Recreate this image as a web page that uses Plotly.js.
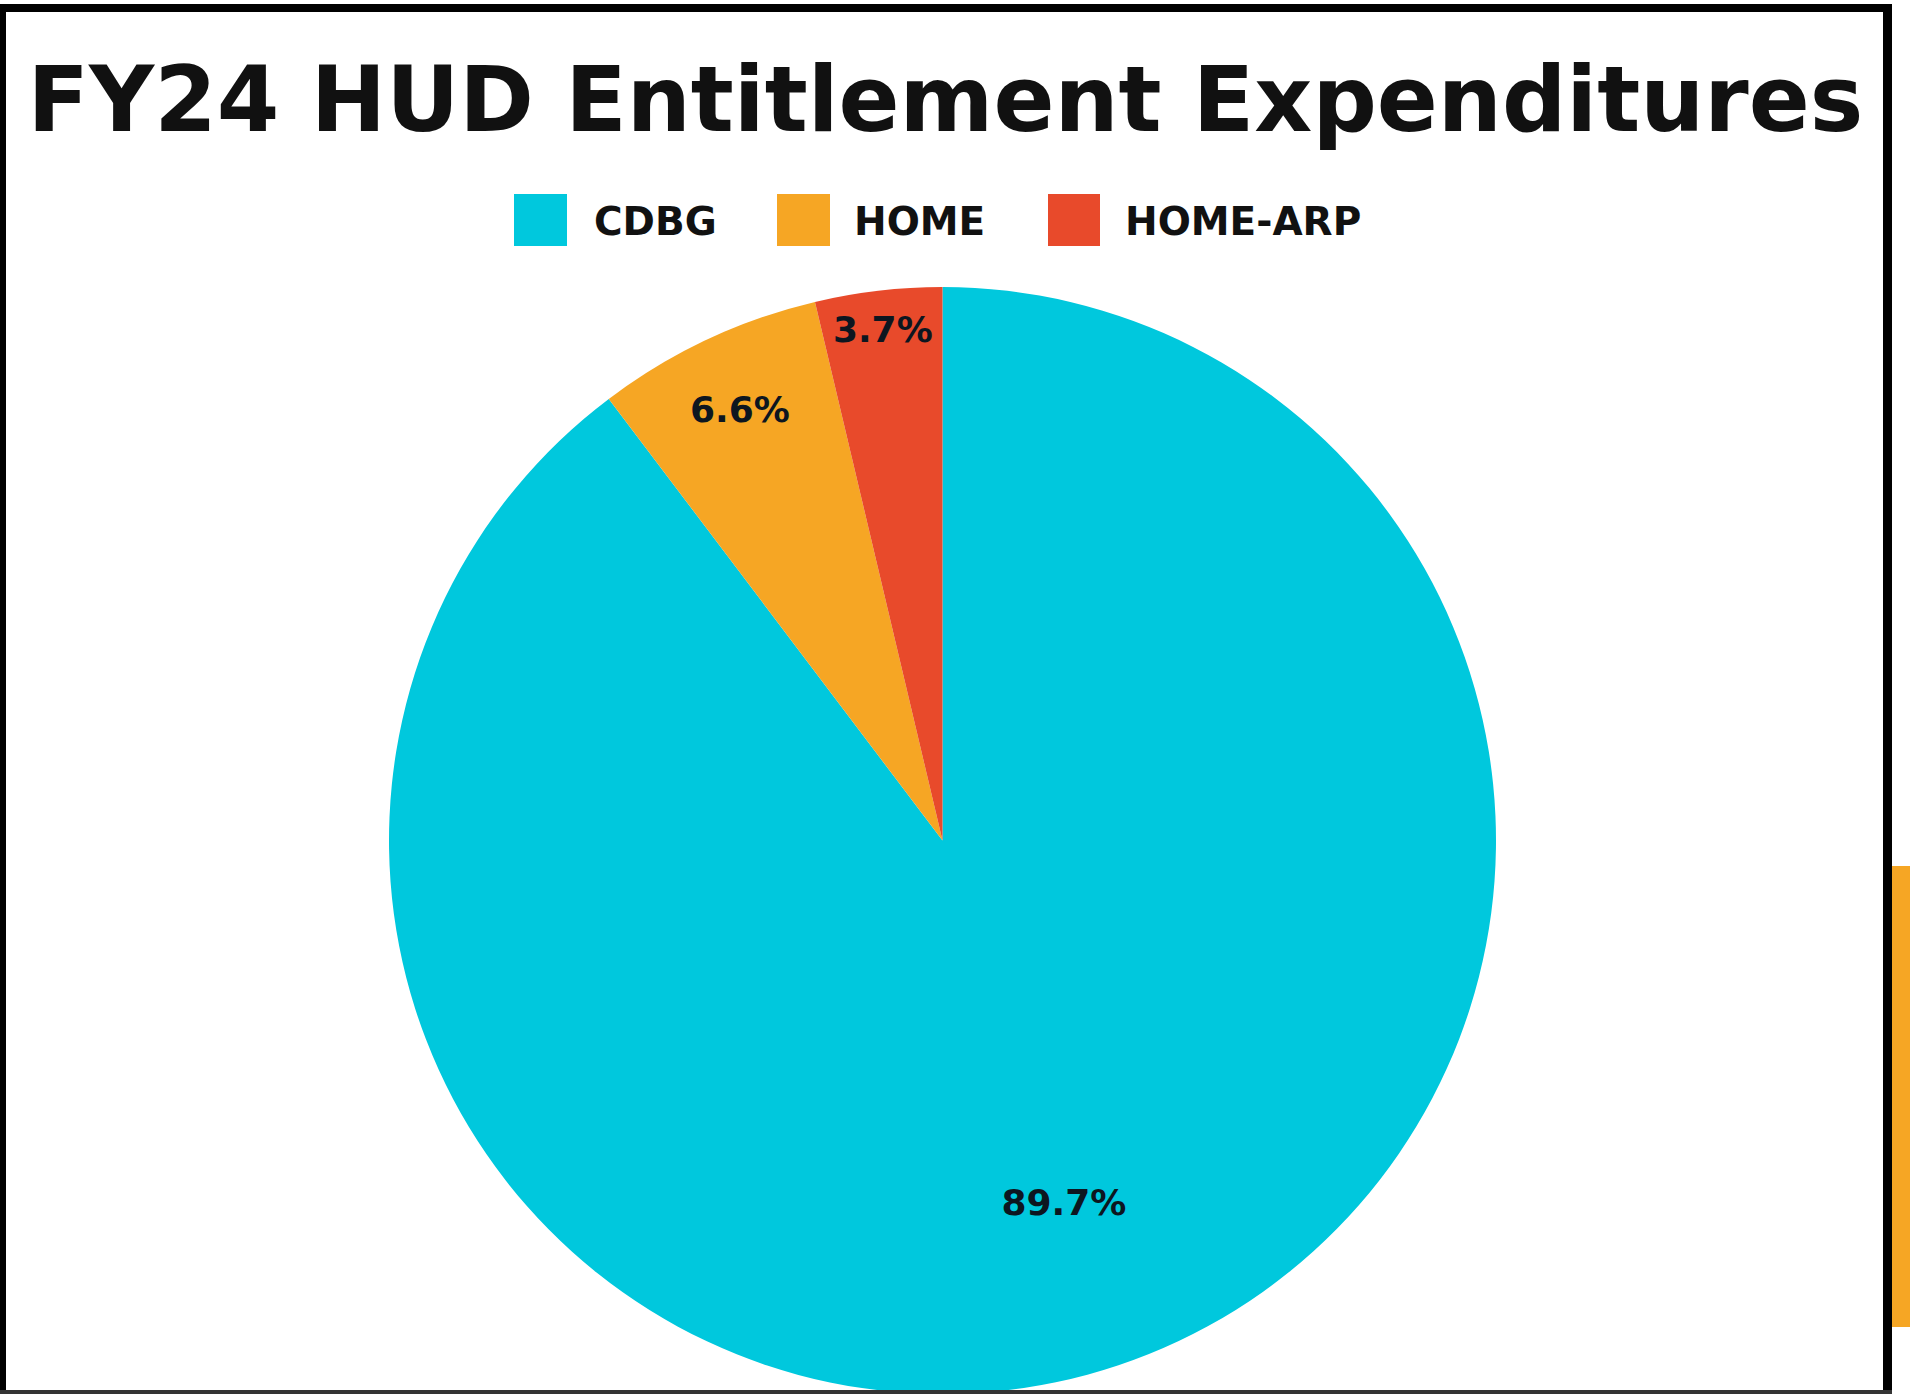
<!DOCTYPE html>
<html>
<head>
<meta charset="utf-8">
<script src="https://cdn.plot.ly/plotly-3.0.1.min.js"></script>
<style>
  html, body { margin: 0; padding: 0; background: #ffffff; overflow: hidden; }
  #chart { width: 1910px; height: 1394px; }
</style>
</head>
<body>
<div id="chart"></div>
<script>
// ---- data ----
const categories = ["CDBG", "HOME", "HOME-ARP"];
const shares = [89.7, 6.6, 3.7];
const sliceColors = ["#00C8DD", "#F6A624", "#E84A2B"];
const chartTitle = "FY24 HUD Entitlement Expenditures";

// ---- layout helpers (pixel -> paper) ----
const W = 1910, H = 1394;
const px = x => x / W;
const py = y => 1 - y / H;

const FONT = "'DejaVu Sans', 'Open Sans', sans-serif";
const INK = "#0d1620";
const pieDomain = { x: [px(389), px(1496)], y: [0, py(287)] };

// visible slices
const pie = {
  type: "pie",
  labels: categories,
  values: shares,
  sort: false,
  direction: "clockwise",
  rotation: 0,
  marker: { colors: sliceColors, line: { width: 0 } },
  textinfo: "none",
  hoverinfo: "label+percent",
  showlegend: false,
  domain: pieDomain
};

// transparent overlays carrying the percentage labels; each overlay's hole
// only tunes how far from the centre its own label sits
const labelHoles = [0.38, 0.72, 0.86];
const labelTraces = categories.map((c, i) => ({
  type: "pie",
  labels: categories,
  values: shares,
  sort: false,
  direction: "clockwise",
  rotation: 0,
  hole: labelHoles[i],
  marker: { colors: categories.map(() => "rgba(0,0,0,0)"), line: { width: 0 } },
  texttemplate: categories.map((_, j) => (j === i ? "%{value:.1f}%" : "")),
  textposition: "inside",
  insidetextorientation: "horizontal",
  textfont: { family: FONT, size: 36, color: INK, weight: 700 },
  hoverinfo: "skip",
  showlegend: false,
  domain: pieDomain
}));

// custom legend (big square swatches)
const legendSquares = [[514, 567], [777, 830], [1048, 1100]];
const legendTextLeft = [592, 852, 1123];
const shapes = [];
const annotations = [];
categories.forEach((c, i) => {
  shapes.push({
    type: "rect", xref: "paper", yref: "paper",
    x0: px(legendSquares[i][0]), x1: px(legendSquares[i][1]),
    y0: py(246), y1: py(194),
    fillcolor: sliceColors[i], line: { width: 0 }
  });
  annotations.push({
    xref: "paper", yref: "paper",
    x: px(legendTextLeft[i]), y: py(222),
    xanchor: "left", yanchor: "middle",
    text: c, showarrow: false,
    font: { family: FONT, size: 39, color: "#111111", weight: 700 }
  });
});

// frame and side accent
shapes.push(
  { type: "rect", xref: "paper", yref: "paper", layer: "above",
    x0: px(0), x1: px(6), y0: py(1394), y1: py(4), fillcolor: "#000", line: { width: 0 } },
  { type: "rect", xref: "paper", yref: "paper", layer: "above",
    x0: px(0), x1: px(1892), y0: py(12), y1: py(4), fillcolor: "#000", line: { width: 0 } },
  { type: "rect", xref: "paper", yref: "paper", layer: "above",
    x0: px(1883), x1: px(1892), y0: py(1394), y1: py(4), fillcolor: "#000", line: { width: 0 } },
  { type: "rect", xref: "paper", yref: "paper", layer: "above",
    x0: px(0), x1: px(1892), y0: py(1394), y1: py(1390), fillcolor: "#333", line: { width: 0 } },
  { type: "rect", xref: "paper", yref: "paper", layer: "above",
    x0: px(1892), x1: px(1910), y0: py(1327), y1: py(866), fillcolor: "#F6A624", line: { width: 0 } }
);

const layout = {
  width: W, height: H,
  margin: { l: 0, r: 0, t: 0, b: 0 },
  paper_bgcolor: "#ffffff",
  title: {
    text: chartTitle,
    x: 0.495, xanchor: "center",
    y: py(99), yanchor: "middle", yref: "container",
    font: { family: FONT, size: 90, color: "#111111", weight: 700 }
  },
  uniformtext: { mode: "show", minsize: 36 },
  shapes: shapes,
  annotations: annotations,
  showlegend: false
};

Plotly.newPlot("chart", [pie].concat(labelTraces), layout, { displayModeBar: false, staticPlot: true });
</script>
</body>
</html>
